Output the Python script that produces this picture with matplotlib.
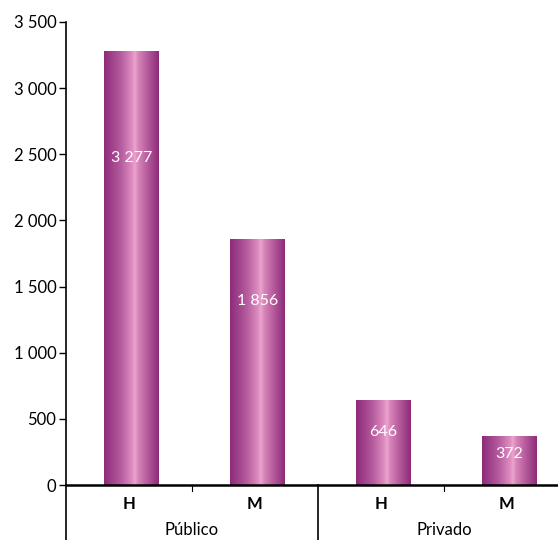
import numpy as np
import matplotlib
matplotlib.use("Agg")
import matplotlib.pyplot as plt
from matplotlib.colors import LinearSegmentedColormap
from matplotlib.ticker import FuncFormatter

# Données
groupes = ["Público", "Privado"]
sexes = ["H", "M", "H", "M"]
valeurs = [3277, 1856, 646, 372]
pos_etiquette = [0.755, 0.75, 0.62, 0.63]  # fraction de la hauteur de barre

plt.rcParams["font.family"] = ["Lato", "DejaVu Sans"]

fig = plt.figure(figsize=(5.58, 5.40), dpi=100)
ax = fig.add_axes([66 / 558, 1 - 485 / 540, 492 / 558, 463 / 540])

# Dégradé horizontal des barres
grad = LinearSegmentedColormap.from_list("barre", [
    (0.0, "#8d2b79"), (0.3, "#b45a9e"), (0.52, "#e08fc0"),
    (0.56, "#eba6d0"), (0.62, "#d886b9"), (0.85, "#aa4d93"), (1.0, "#8d2b79")])
largeur = 0.43
x = np.arange(len(valeurs)) + 0.02
barres = ax.bar(x, valeurs, width=largeur, color="none", edgecolor="none")
g = np.linspace(0, 1, 256).reshape(1, -1)
for b in barres:
    x0, y0, w, h = b.get_x(), b.get_y(), b.get_width(), b.get_height()
    im = ax.imshow(g, cmap=grad, aspect="auto", extent=[x0, x0 + w, y0, y0 + h],
                   interpolation="bicubic", zorder=2)
    im.set_clip_path(b)

for xi, v, f in zip(x, valeurs, pos_etiquette):
    ax.text(xi, v * f, f"{v:,}".replace(",", " "), ha="center", va="center",
            color="white", fontsize=11.5, zorder=3)

ax.set_xlim(-0.5, -0.5 + 492 / 126)
ax.set_ylim(0, 3500)
ax.set_yticks(np.arange(0, 3501, 500))
ax.yaxis.set_major_formatter(FuncFormatter(lambda v, p: f"{int(v):,}".replace(",", " ")))
ax.tick_params(axis="y", direction="out", length=5, width=1, labelsize=12, pad=2)
ax.set_xticks([])

for s in ["top", "right"]:
    ax.spines[s].set_visible(False)
ax.spines["left"].set_linewidth(1.2)
ax.spines["bottom"].set_linewidth(1.8)

# Axe des catégories à deux niveaux
trans = ax.get_xaxis_transform()
bas = -55 / 463
ax.plot([-0.5, -0.5], [0, bas], transform=trans, color="black", lw=1.2, clip_on=False)
ax.plot([1.5, 1.5], [0, bas], transform=trans, color="black", lw=1.2, clip_on=False)
for t in [0.5, 2.5]:
    ax.plot([t, t], [0, -6 / 463], transform=trans, color="black", lw=0.8, clip_on=False)
for i, s in enumerate(sexes):
    ax.text(i, -19 / 463, s, transform=trans, ha="center", va="center",
            fontsize=12, fontweight="bold")
for j, gname in enumerate(groupes):
    ax.text(2 * j + 0.5, -45 / 463, gname, transform=trans, ha="center", va="center",
            fontsize=12)

fig.savefig("out.png", dpi=100)
